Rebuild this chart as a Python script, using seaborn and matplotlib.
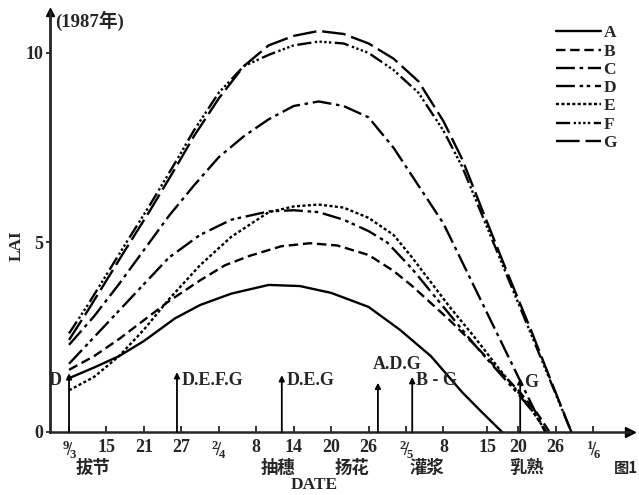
import numpy as np
import pandas as pd
import matplotlib
matplotlib.use("Agg")
import matplotlib.pyplot as plt
import seaborn as sns

# ---------------- data ----------------
A_days = [0, 4, 8, 12, 17, 21, 26, 32, 37, 42, 48, 53, 58, 63, 66, 69.4]
A_lai = [1.42, 1.7, 2.0, 2.4, 3.0, 3.35, 3.65, 3.88, 3.85, 3.67, 3.3, 2.7, 2.0, 1.05, 0.55, 0]

B_days = [0, 4, 8, 12, 16, 21, 25, 29, 34, 38.6, 43, 48, 52, 55, 58, 61, 65, 69, 72, 75, 77]
B_lai = [1.64, 2.0, 2.45, 2.95, 3.45, 4.0, 4.4, 4.65, 4.9, 4.98, 4.92, 4.67, 4.25, 3.85, 3.4, 2.95, 2.3, 1.6, 1.1, 0.5, 0]

C_days = [0, 4, 8, 12, 16, 20, 24, 28, 32, 36, 40, 44, 48, 52, 56, 60, 64, 68, 72, 76.3]
C_lai = [2.3, 3.05, 3.9, 4.8, 5.7, 6.5, 7.25, 7.8, 8.25, 8.6, 8.72, 8.6, 8.3, 7.5, 6.5, 5.5, 4.15, 2.8, 1.45, 0]

D_days = [0, 4, 8, 12, 16, 21, 26, 32, 36, 40, 44, 48, 51, 55, 58, 61, 65, 69, 72, 74.5, 76.5]
D_lai = [1.8, 2.5, 3.2, 3.9, 4.6, 5.2, 5.6, 5.82, 5.85, 5.8, 5.6, 5.3, 5.0, 4.3, 3.7, 3.1, 2.3, 1.55, 1.0, 0.5, 0]

E_days = [0, 4, 8, 12, 16, 21, 26, 32, 36, 40, 44, 48, 52, 55, 58, 61, 65, 69, 72, 74.5, 76.5]
E_lai = [1.1, 1.45, 2.0, 2.7, 3.5, 4.4, 5.15, 5.8, 5.95, 6.0, 5.92, 5.65, 5.2, 4.6, 3.95, 3.3, 2.5, 1.65, 1.05, 0.5, 0]

FG_days = [0, 3, 6, 9, 13, 17, 20, 24, 28, 32, 36, 40, 44, 48, 52, 56, 60, 63, 66, 70, 74, 77, 80.5]
F_lai = [2.6, 3.35, 4.15, 4.95, 6.0, 7.1, 7.95, 8.95, 9.65, 9.95, 10.2, 10.3, 10.25, 10.0, 9.55, 8.95, 7.95, 7.0, 5.8, 4.2, 2.6, 1.4, 0]
G_lai = [2.43, 3.2, 4.0, 4.8, 5.85, 6.95, 7.8, 8.8, 9.65, 10.2, 10.45, 10.58, 10.5, 10.25, 9.85, 9.25, 8.2, 7.2, 5.95, 4.3, 2.7, 1.45, 0]

series_names = ["A", "B", "C", "D", "E", "F", "G"]

tick_days = [0, 6, 12, 18, 24, 30, 36, 42, 48, 54, 60, 67, 72, 78, 84]
tick_labels = [r"$^{9}\!/\!_{3}$", "15", "21", "27", r"$^{2}\!/\!_{4}$", "8", "14", "20", "26",
               r"$^{2}\!/\!_{5}$", "8", "15", "20", "26", r"$^{1}\!/\!_{6}$"]

stage_names = ["拔节", "抽穗", "扬花", "灌浆", "乳熟"]
stage_days = [3.8, 33.5, 45.4, 57.3, 73.4]

mark_labels = ["D", "D.E.F.G", "D.E.G", "A.D.G", "B - G", "G"]
mark_days = [0, 17.3, 34.1, 49.5, 55.0, 72.3]

# ---------------- style ----------------
sns.set_style("ticks")
plt.rcParams["font.family"] = ["Liberation Serif", "Noto Sans CJK SC", "DejaVu Sans"]
plt.rcParams["font.weight"] = "bold"
plt.rcParams["mathtext.fontset"] = "custom"
plt.rcParams["mathtext.rm"] = "Liberation Serif:bold"
plt.rcParams["mathtext.it"] = "Liberation Serif:bold"
plt.rcParams["mathtext.bf"] = "Liberation Serif:bold"

styles = {
    "A": "-",
    "B": (0, (4, 2)),
    "C": (0, (8, 2, 1.5, 2)),
    "D": (0, (8, 2, 1.5, 1.5, 1.5, 2)),
    "E": (0, (1.3, 1.0)),
    "F": (0, (6, 1.5, 1, 1, 1, 1, 1, 1, 1, 1.5)),
    "G": (0, (10, 2.5)),
}

data = {
    "A": (A_days, A_lai), "B": (B_days, B_lai), "C": (C_days, C_lai),
    "D": (D_days, D_lai), "E": (E_days, E_lai),
    "F": (FG_days, F_lai), "G": (FG_days, G_lai),
}

fig = plt.figure(figsize=(6.39, 4.95), dpi=100)
ax = fig.add_axes([50 / 639, 63 / 495, 580 / 639, 420 / 495])

for name in series_names:
    d, v = data[name]
    df = pd.DataFrame({"day": d, "lai": v})
    sns.lineplot(data=df, x="day", y="lai", ax=ax, color="black", lw=1.7,
                 linestyle=styles[name], label=name, estimator=None, sort=False)

ax.set_xlim(-3.05, 89.9)
ax.set_ylim(0, 11.08)

handles = ax.get_lines()[:7]
leg = ax.legend(handles=handles, labels=series_names, loc="upper left",
                bbox_to_anchor=(0.86, 0.985), frameon=False, handlelength=2.6,
                handletextpad=0.15, labelspacing=0.12, fontsize=12.5, borderaxespad=0)

# stage arrows
arrow_tops = [1.55, 1.58, 1.5, 1.3, 1.45, 1.42]
for lab, dd, top in zip(mark_labels, mark_days, arrow_tops):
    ax.annotate("", xy=(dd, top), xytext=(dd, 0),
                arrowprops=dict(arrowstyle="-|>", color="black", lw=1.3, mutation_scale=8,
                                shrinkA=0, shrinkB=0))
# labels
ax.text(-1.2, 1.37, "D", ha="right", va="center", fontsize=13, fontweight="bold")
ax.text(18.0, 1.37, "D.E.F.G", ha="left", va="center", fontsize=13, fontweight="bold")
ax.text(34.8, 1.35, "D.E.G", ha="left", va="center", fontsize=13, fontweight="bold")
ax.text(48.7, 1.77, "A.D.G", ha="left", va="center", fontsize=13, fontweight="bold")
ax.text(55.6, 1.35, "B - G", ha="left", va="center", fontsize=13, fontweight="bold")
ax.text(73.0, 1.3, "G", ha="left", va="center", fontsize=13, fontweight="bold")

# axes styling
sns.despine(ax=ax)
ax.spines["left"].set_linewidth(2.0)
ax.spines["bottom"].set_linewidth(1.8)
ax.plot(0, 1, marker="^", color="black", ms=6, transform=ax.transAxes, clip_on=False)
ax.plot(1, 0, marker=">", color="black", ms=7, transform=ax.transAxes, clip_on=False)

ax.set_yticks([0, 5, 10])
ax.set_yticklabels(["0", "5", "10"], fontsize=13, fontweight="bold")
ax.set_xticks(tick_days)
ax.set_xticklabels(tick_labels, fontsize=13, fontweight="bold")
ax.tick_params(axis="x", direction="in", length=4, width=1.3, pad=5)
ax.tick_params(axis="y", direction="out", length=3, width=1.3, pad=2)
ax.set_xlabel("")
ax.set_ylabel("")

xt = ax.get_xaxis_transform()
for s, dd in zip(stage_names, stage_days):
    ax.text(dd, -0.086, s, transform=xt, ha="center", va="center", fontsize=12.5,
            fontweight="bold", family=["Noto Sans CJK SC"])
ax.text(39.3, -0.126, "DATE", transform=xt, ha="center", va="center", fontsize=12.5,
        fontweight="bold")
ax.text(87.3, -0.086, "图1", transform=xt, ha="left", va="center", fontsize=11,
        fontweight="bold", family=["Noto Sans CJK SC"], clip_on=False)

ax.text(-2.2, 10.84, "(1987年)", ha="left", va="center", fontsize=13.5,
        fontweight="bold", family=["Liberation Serif", "Noto Sans CJK SC"])
ax.text(-0.058, 0.443, "LAI", transform=ax.transAxes, rotation=90, ha="center",
        va="center", fontsize=12.5, fontweight="bold")

fig.savefig("out.png", dpi=100, facecolor="white")
